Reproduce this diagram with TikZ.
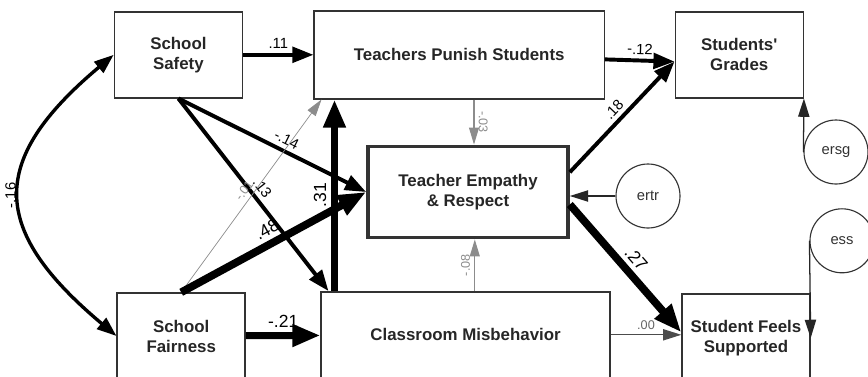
\documentclass[tikz,border=0pt]{standalone}
\usepackage{fontspec}
\setmainfont{Liberation Sans}
\usepackage{xcolor}
\usepackage{tikz}
\usetikzlibrary{arrows.meta}

\begin{document}
\begin{tikzpicture}[
    every node/.style={font=\fontsize{10.5}{12}\selectfont},
    box/.style={draw=black!80, line width=1pt, align=center, inner sep=0pt,
        minimum width=3.2cm, minimum height=2.15cm,
        font=\fontsize{12}{14.2}\selectfont\bfseries, text=black!85},
    err/.style={draw=black!80, line width=0.8pt, circle, minimum size=1.6cm,
        inner sep=0pt, text=black!80},
    thinpath/.style={-{Triangle[length=13pt, width=8pt]}, line width=0.9pt, black!85},
    greypath/.style={-{Triangle[length=12pt, width=7pt]}, line width=0.8pt, black!45},
    midpath/.style={-{Triangle[length=15pt, width=11pt]}, line width=2.8pt},
    bigpath/.style={-{Triangle[length=20pt, width=15pt]}, line width=5.5pt},
    coef/.style={sloped, above, inner sep=3pt},
    bigcoef/.style={coef, font=\fontsize{12.5}{14}\selectfont},
    greycoef/.style={coef, text=black!45, font=\fontsize{9}{11}\selectfont},
    upcoef/.style={rotate=90, anchor=south, inner sep=3pt},
    downcoef/.style={rotate=-90, anchor=south, inner sep=3pt}
]
   % Frame of the reference (bottom row runs off the page)
   \useasboundingbox (0,0) rectangle (21.7,9.4);
   \clip (0,0) rectangle (21.7,9.4);

    % Observed variables
    \node[box] (safety) at (4.46,8.03) {School\\Safety};
    \node[box, minimum width=7.25cm, minimum height=2.2cm] (punish) at (11.48,8.03) {Teachers Punish Students};
    \node[box] (grades) at (18.48,8.03) {Students\textquotesingle\\Grades};
    \node[box, line width=2.6pt, minimum width=5cm, minimum height=2.28cm] (empathy) at (11.7,4.6) {Teacher Empathy\\\& Respect};
    \node[box] (fairness) at (4.53,1.0) {School\\Fairness};
    \node[box, minimum width=7.22cm] (misbehavior) at (11.64,1.03) {Classroom Misbehavior};
    \node[box, minimum height=2.2cm] (supported) at (18.65,0.95) {Student Feels\\Supported};

    % Error terms
    \node[err] (ertr) at (16.2,4.5) {ertr};
    \node[err] (ersg) at (20.9,5.6) {ersg};
    \node[err] (ess) at (21.05,3.38) {ess};

    % Correlation between the two school variables
    \draw[{Triangle[length=14pt, width=10pt]}-{Triangle[length=14pt, width=10pt]}, line width=2.4pt]
        (fairness.west) to[out=140, in=220, looseness=1.5] node[upcoef, inner sep=2pt] {-.16} (safety.west);

    % Paths from school safety
    \draw[midpath] (safety) -- node[coef] {.11} (punish);
    \draw[midpath] (safety.south) -- node[coef, pos=0.55] {-.14} (empathy.west);
    \draw[midpath] (safety.south) -- node[coef] {.13} ([xshift=0.2cm]misbehavior.north west);

    % Paths from school fairness
    \draw[greypath, line width=0.5pt] (fairness.north) -- node[greycoef] {-.01} ([xshift=0.2cm]punish.south west);
    \draw[bigpath] (fairness.north) -- node[bigcoef] {.48} (empathy.west);
    \draw[bigpath, line width=5pt] (fairness) -- node[bigcoef] {-.21} (misbehavior);

    % Paths from the classroom and the teachers
    \draw[bigpath] ([xshift=0.35cm]misbehavior.north west) -- node[upcoef, font=\fontsize{12.5}{14}\selectfont] {.31} ([xshift=0.35cm]misbehavior.north west |- punish.south);
    \draw[greypath] ([xshift=0.17cm]empathy.south |- misbehavior.north) -- node[upcoef, text=black!45, font=\fontsize{9}{11}\selectfont] {-.08} ([xshift=0.17cm]empathy.south);
    \draw[greypath] ([xshift=0.15cm]empathy.north |- punish.south) -- node[downcoef, text=black!45, font=\fontsize{9}{11}\selectfont] {-.03} ([xshift=0.15cm]empathy.north);
    \draw[thinpath, black!70] (misbehavior.east) -- node[greycoef, text=black!60] {.00} (misbehavior.east -| supported.west);
    \draw[midpath] (punish) -- node[coef] {-.12} (grades.186);
    \draw[midpath] (empathy.11) -- node[coef] {.18} (grades.186);
    \draw[bigpath] (empathy.-7) -- node[bigcoef] {.27} (supported.175);

    % Error terms into the outcomes
    \draw[thinpath] (ertr.west) -- (ertr.west -| empathy.east);
    \draw[thinpath] (ersg.west) -- (grades.south east);
    \draw[thinpath] (ess.west) -- (supported.east);
\end{tikzpicture}
\end{document}
